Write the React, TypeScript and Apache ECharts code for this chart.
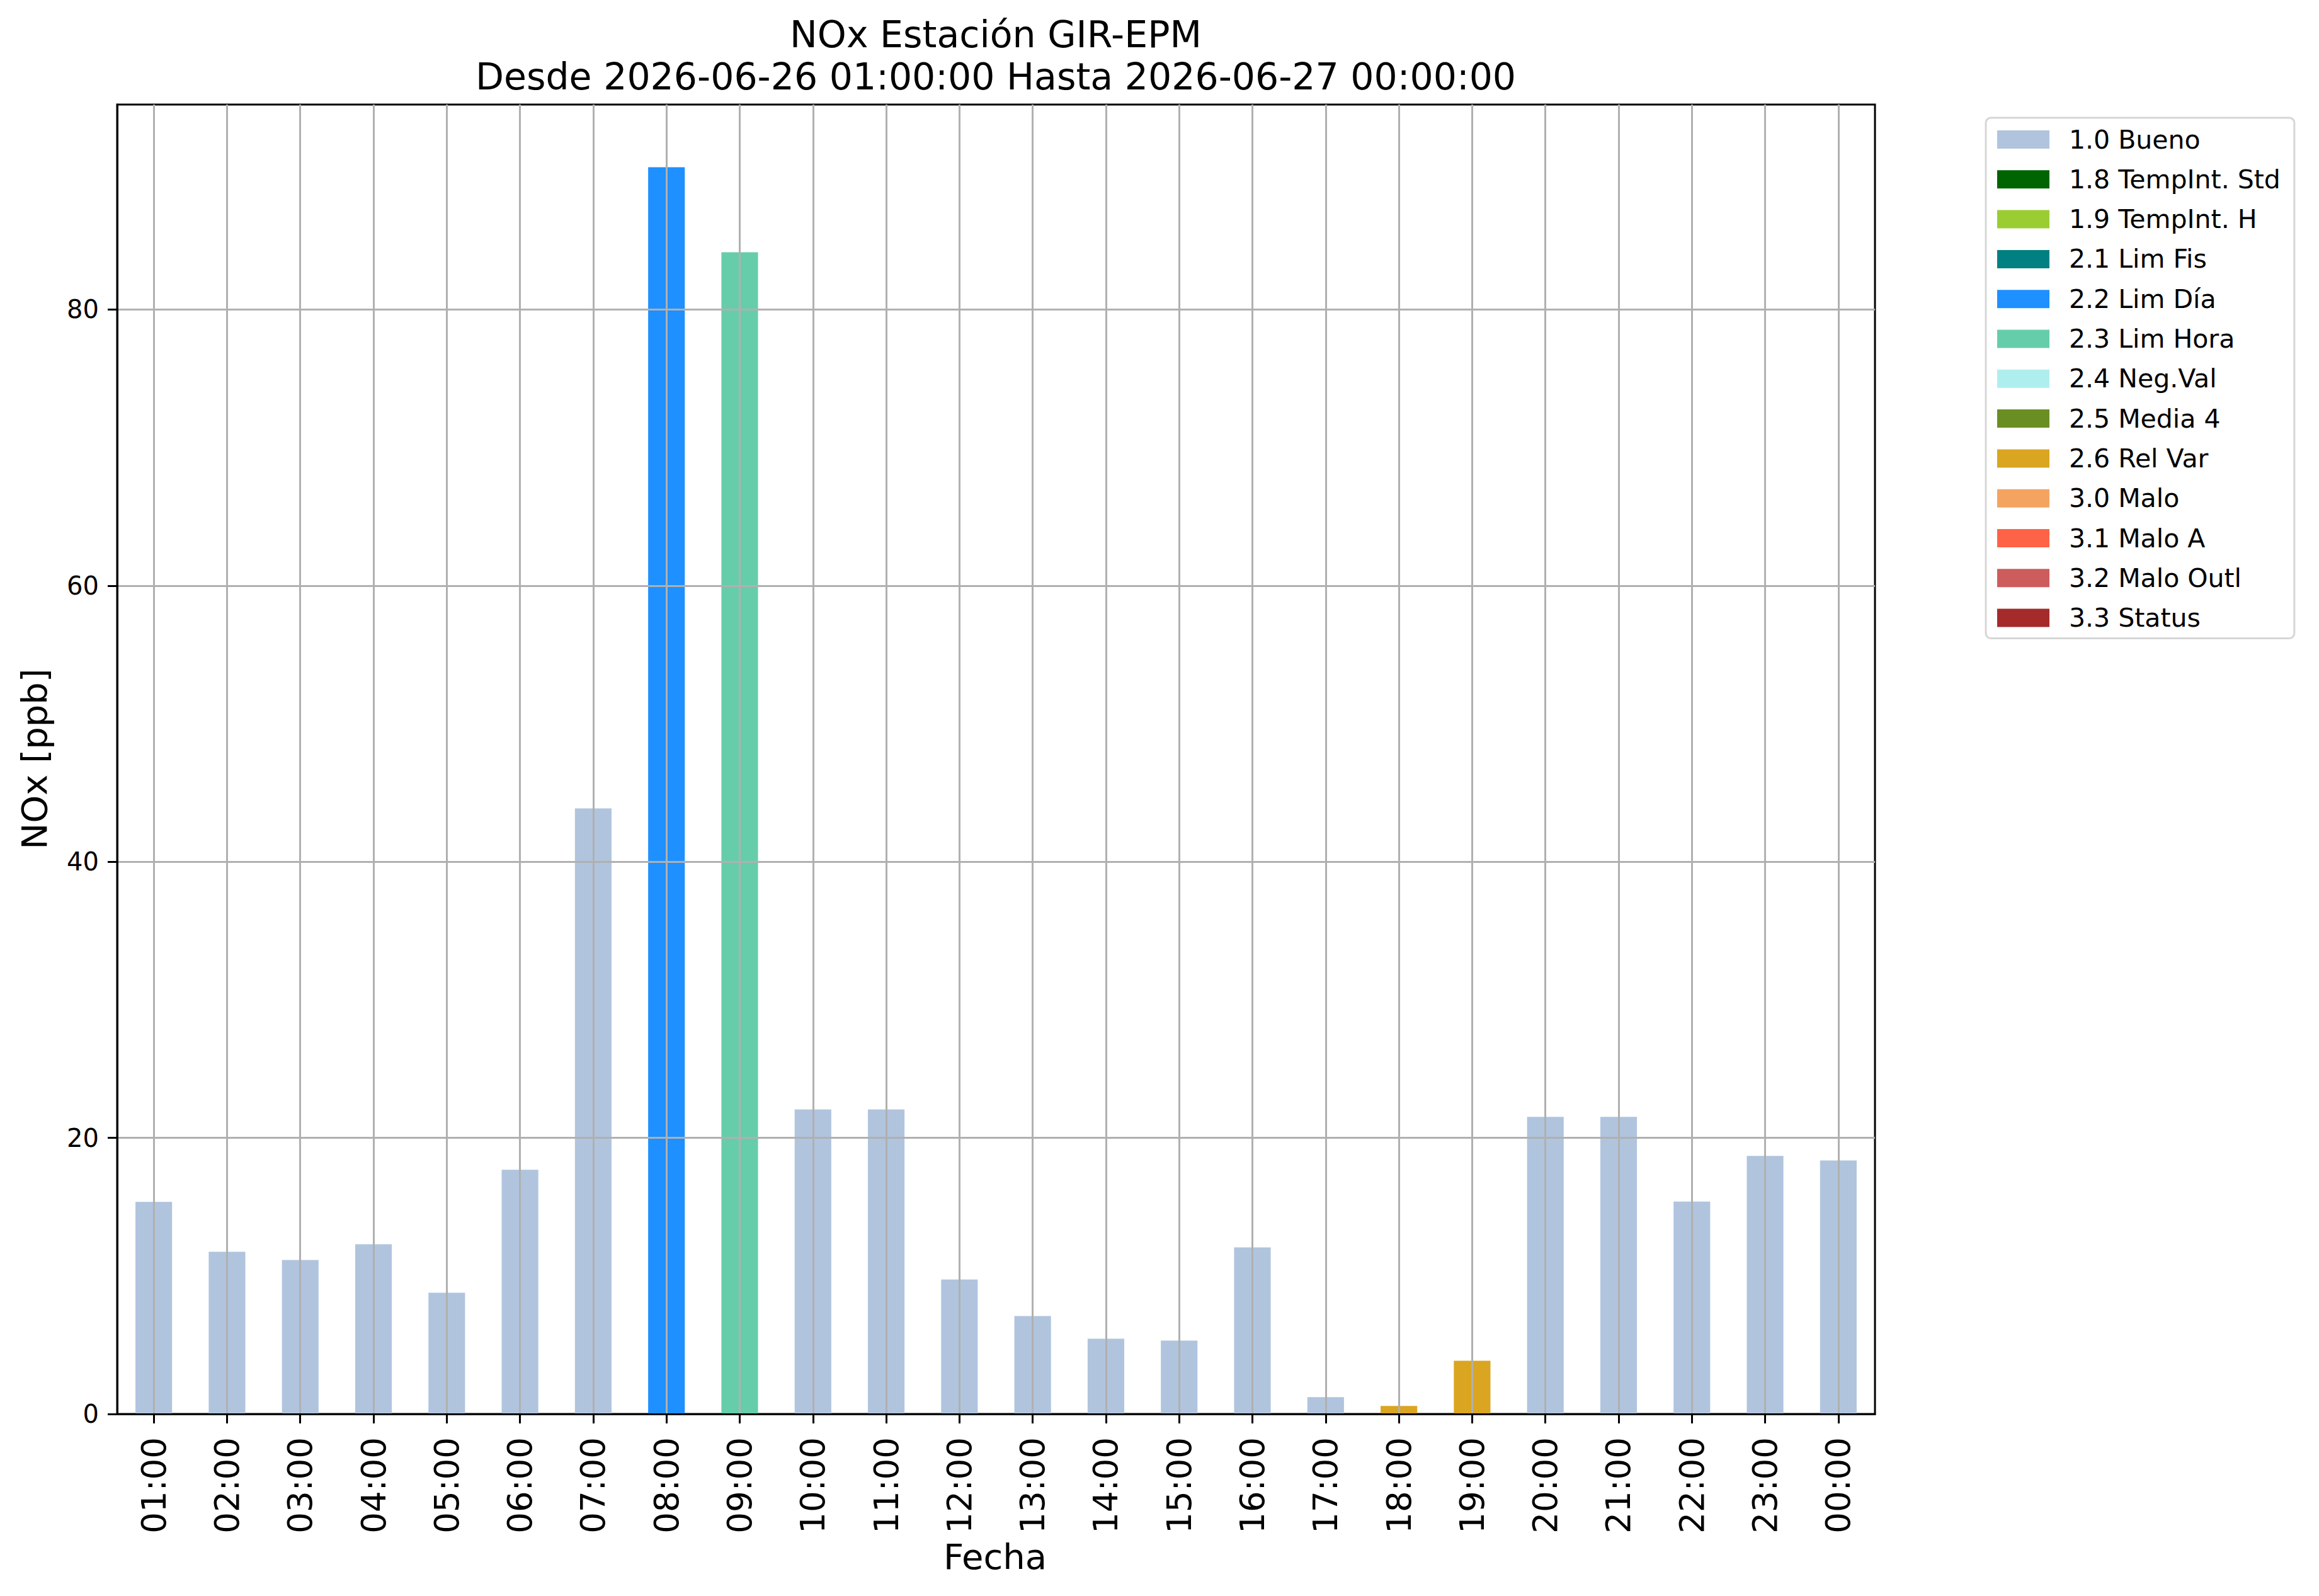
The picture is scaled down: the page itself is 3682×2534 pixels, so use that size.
import React, { useEffect, useRef } from "react";
import * as echarts from "echarts";

const hours = [
  "01:00", "02:00", "03:00", "04:00", "05:00", "06:00", "07:00", "08:00",
  "09:00", "10:00", "11:00", "12:00", "13:00", "14:00", "15:00", "16:00",
  "17:00", "18:00", "19:00", "20:00", "21:00", "22:00", "23:00", "00:00",
];

const noxValues = [
  15.36, 11.75, 11.16, 12.3, 8.78, 17.69, 43.87, 90.31,
  84.15, 22.06, 22.06, 9.74, 7.09, 5.45, 5.32, 12.07,
  1.22, 0.58, 3.85, 21.52, 21.52, 15.39, 18.69, 18.36,
];

const hourFlags = [
  "1.0 Bueno", "1.0 Bueno", "1.0 Bueno", "1.0 Bueno", "1.0 Bueno", "1.0 Bueno", "1.0 Bueno", "2.2 Lim Día",
  "2.3 Lim Hora", "1.0 Bueno", "1.0 Bueno", "1.0 Bueno", "1.0 Bueno", "1.0 Bueno", "1.0 Bueno", "1.0 Bueno",
  "1.0 Bueno", "2.6 Rel Var", "2.6 Rel Var", "1.0 Bueno", "1.0 Bueno", "1.0 Bueno", "1.0 Bueno", "1.0 Bueno",
];

const flagNames = [
  "1.0 Bueno", "1.8 TempInt. Std", "1.9 TempInt. H", "2.1 Lim Fis", "2.2 Lim Día",
  "2.3 Lim Hora", "2.4 Neg.Val", "2.5 Media 4", "2.6 Rel Var", "3.0 Malo",
  "3.1 Malo A", "3.2 Malo Outl", "3.3 Status",
];

const flagColors = [
  "#B0C4DE", "#006400", "#9ACD32", "#008080", "#1E90FF",
  "#66CDAA", "#AFEEEE", "#6B8E23", "#DAA520", "#F4A460",
  "#FF6347", "#CD5C5C", "#A52A2A",
];

const yTicks = [20, 40, 60, 80];

const titleLines = ["NOx Estación GIR-EPM", "Desde 2026-06-26 01:00:00 Hasta 2026-06-27 00:00:00"];

const FONT = "DejaVu Sans";
const GRID_COLOR = "#b0b0b0";

export default function App() {
  const ref = useRef<HTMLDivElement>(null);

  useEffect(() => {
    if (!ref.current) return;
    const chart = echarts.init(ref.current, undefined, { renderer: "svg" });

    const gridMarks = [
      ...hours.map((h) => ({ xAxis: h })),
      ...yTicks.map((v) => ({ yAxis: v })),
    ];

    const series: any[] = flagNames.map((name, si) => ({
      name,
      type: "bar",
      stack: "total",
      barWidth: "50%",
      itemStyle: { color: flagColors[si] },
      emphasis: { disabled: true },
      data: noxValues.map((v, i) => (hourFlags[i] === name ? v : null)),
    }));

    series[0].markLine = {
      silent: true,
      symbol: ["none", "none"],
      label: { show: false },
      emphasis: { disabled: true },
      lineStyle: { color: GRID_COLOR, width: 3, type: "solid" },
      z: 5,
      data: gridMarks,
    };

    chart.setOption({
      animation: false,
      backgroundColor: "#ffffff",
      textStyle: { fontFamily: FONT },
      grid: {
        left: 186,
        top: 166,
        width: 2791,
        height: 2079,
        containLabel: false,
        show: true,
        borderColor: "#000000",
        borderWidth: 3,
        backgroundColor: "transparent",
      },
      legend: {
        orient: "vertical",
        left: 3153,
        top: 187,
        padding: [14, 22, 12, 18],
        itemWidth: 83,
        itemHeight: 29,
        itemGap: 22.3,
        icon: "rect",
        selectedMode: false,
        borderColor: "#d6d6d6",
        borderWidth: 3,
        borderRadius: 8,
        backgroundColor: "#ffffff",
        textStyle: {
          fontFamily: FONT,
          fontSize: 41,
          color: "#000000",
          padding: [0, 0, 0, 26],
        },
        data: flagNames,
      },
      xAxis: {
        type: "category",
        data: hours,
        z: 10,
        axisLine: { show: true, lineStyle: { color: "#000000", width: 3 } },
        axisTick: { show: true, alignWithLabel: true, length: 15, lineStyle: { color: "#000000", width: 3 } },
        axisLabel: {
          rotate: 90,
          margin: 37,
          fontFamily: FONT,
          fontSize: 53,
          color: "#000000",
          interval: 0,
        },
        splitLine: { show: false },
      },
      yAxis: {
        type: "value",
        min: 0,
        max: 94.85,
        interval: 20,
        z: 10,
        axisLine: { show: true, lineStyle: { color: "#000000", width: 3 } },
        axisTick: { show: true, length: 15, lineStyle: { color: "#000000", width: 3 } },
        axisLabel: {
          margin: 29,
          fontFamily: FONT,
          fontSize: 40,
          color: "#000000",
          showMaxLabel: false,
        },
        splitLine: { show: false },
      },
      graphic: [
        {
          type: "text",
          x: 1581,
          y: 75 - 0.346 * 58.5,
          silent: true,
          style: { text: titleLines[0], fontFamily: FONT, fontSize: 58.5, fill: "#000000", align: "center", verticalAlign: "middle" },
        },
        {
          type: "text",
          x: 1581,
          y: 142 - 0.346 * 58.5,
          silent: true,
          style: { text: titleLines[1], fontFamily: FONT, fontSize: 58.5, fill: "#000000", align: "center", verticalAlign: "middle" },
        },
        {
          type: "text",
          x: 54,
          y: 1205,
          rotation: Math.PI / 2,
          silent: true,
          style: { text: "NOx [ppb]", fontFamily: FONT, fontSize: 56, fill: "#000000", align: "center", verticalAlign: "middle" },
        },
        {
          type: "text",
          x: 1580,
          y: 2490.7 - 0.346 * 56,
          silent: true,
          style: { text: "Fecha", fontFamily: FONT, fontSize: 56, fill: "#000000", align: "center", verticalAlign: "middle" },
        },
      ],
      series,
    });

    return () => {
      chart.dispose();
    };
  }, []);

  return (
    <div
      ref={ref}
      style={{ position: "absolute", left: 0, top: 0, width: 3682, height: 2534, background: "#ffffff" }}
    />
  );
}
